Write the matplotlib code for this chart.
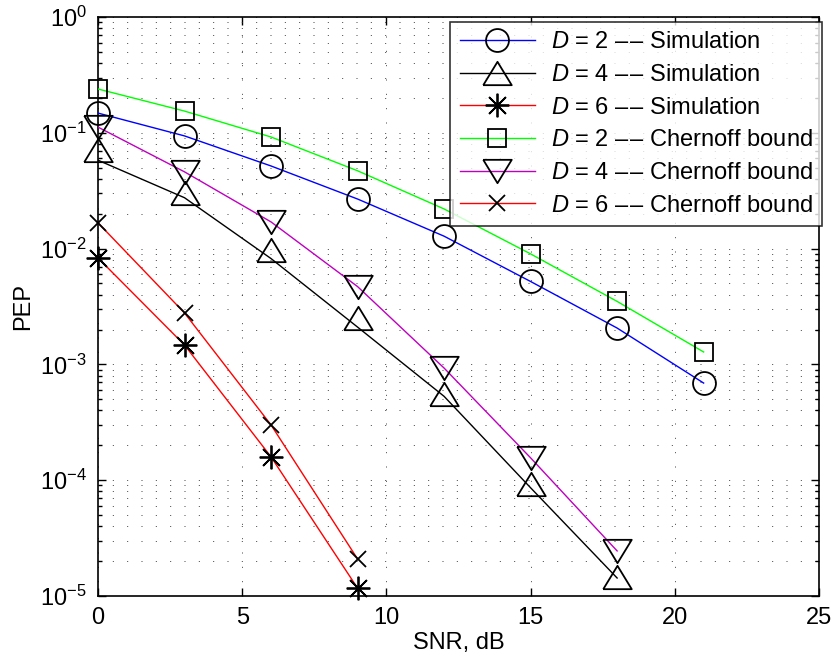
import matplotlib

matplotlib.use("Agg")
import matplotlib.pyplot as plt
from matplotlib.lines import Line2D
from matplotlib.ticker import LogLocator, NullFormatter

plt.rcParams["font.family"] = ["Liberation Sans", "DejaVu Sans"]
plt.rcParams["mathtext.fontset"] = "custom"
plt.rcParams["mathtext.rm"] = "Liberation Sans"
plt.rcParams["mathtext.it"] = "Liberation Sans:italic"
plt.rcParams["font.size"] = 17

snr_d2 = [0, 3, 6, 9, 12, 15, 18, 21]
snr_d4 = [0, 3, 6, 9, 12, 15, 18]
snr_d6 = [0, 3, 6, 9]

sim_d2 = [0.148, 0.094, 0.0517, 0.0268, 0.0128, 0.0052, 0.00206, 0.00069]
sim_d4 = [0.071, 0.030, 0.0097, 0.0025, 0.00055, 9.3e-5, 1.45e-5]
sim_d4_line = [0.058, 0.0275, 0.0082, 0.0021, 0.00053, 8.6e-5, 1.43e-5]
sim_d6 = [0.0083, 0.00147, 0.000159, 1.17e-5]

cb_d2 = [0.239, 0.154, 0.092, 0.047, 0.022, 0.009, 0.0035, 0.00128]
cb_d4 = [0.112, 0.046, 0.017, 0.0047, 0.00093, 0.000156, 2.45e-5]
cb_d6 = [0.0167, 0.00278, 0.0003, 2.09e-5]

dash = "\u2013\u200a\u2013"
labels = [
    f"$D$ = 2 {dash} Simulation",
    f"$D$ = 4 {dash} Simulation",
    f"$D$ = 6 {dash} Simulation",
    f"$D$ = 2 {dash} Chernoff bound",
    f"$D$ = 4 {dash} Chernoff bound",
    f"$D$ = 6 {dash} Chernoff bound",
]

# MATLAB-like flat triangles
tri_up = [(-1.0, -0.82), (1.0, -0.82), (0.0, 0.82), (-1.0, -0.82)]
tri_dn = [(-1.0, 0.82), (1.0, 0.82), (0.0, -0.82), (-1.0, 0.82)]

series = [
    (snr_d2, sim_d2, sim_d2, "b", "o", 16.5),
    (snr_d4, sim_d4_line, sim_d4, "k", tri_up, 20.5),
    (snr_d6, sim_d6, sim_d6, "r", (8, 2, 0), 17),
    (snr_d2, cb_d2, cb_d2, "#00ff00", "s", 13.5),
    (snr_d4, cb_d4, cb_d4, "m", tri_dn, 20.5),
    (snr_d6, cb_d6, cb_d6, "r", "x", 12),
]

fig = plt.figure(figsize=(8.33, 6.62), dpi=100)
ax = fig.add_axes([98 / 833, 66 / 662, 721 / 833, 579 / 662])

handles = []
for x, yl, ym, c, mk, ms in series:
    ax.plot(x, yl, color=c, lw=1.0, zorder=3)
    ax.plot(x, ym, ls="none", marker=mk, ms=ms, mfc="none", mec="k",
            mew=1.3, zorder=4, clip_on=False)
    handles.append(Line2D([], [], color=c, lw=1.0, marker=mk, ms=ms,
                          mfc="none", mec="k", mew=1.3))

ax.set_yscale("log")
ax.set_xlim(0, 25)
ax.set_ylim(1e-5, 1)
ax.set_xticks([0, 5, 10, 15, 20, 25])
ax.yaxis.set_major_locator(LogLocator(base=10, numticks=10))
ax.yaxis.set_minor_locator(LogLocator(base=10, subs=range(2, 10), numticks=20))
ax.yaxis.set_minor_formatter(NullFormatter())

ax.tick_params(which="both", direction="in", top=True, right=True, width=1)
ax.tick_params(which="major", length=6, pad=8)
ax.tick_params(which="minor", length=3)
for s in ax.spines.values():
    s.set_linewidth(1.2)

grid_style = dict(color="0.15", lw=0.6, ls=(0, (1.2, 16)))
ax.grid(True, which="major", axis="both", **grid_style)
ax.grid(True, which="minor", axis="y", **grid_style)
ax.set_axisbelow(True)

ax.set_xlabel("SNR, dB", labelpad=2)
ax.set_ylabel("PEP", labelpad=4)

leg = ax.legend(handles, labels, loc="upper right",
                bbox_to_anchor=(822 / 833, 1 - 22 / 662),
                bbox_transform=fig.transFigure, frameon=True, fancybox=False,
                handlelength=3.2, handletextpad=0.65, labelspacing=0.45,
                borderpad=0.4, borderaxespad=0, fontsize=17)
leg.get_frame().set_edgecolor("k")
leg.get_frame().set_linewidth(1.2)
leg.set_zorder(10)

fig.savefig("out.png", dpi=100)
